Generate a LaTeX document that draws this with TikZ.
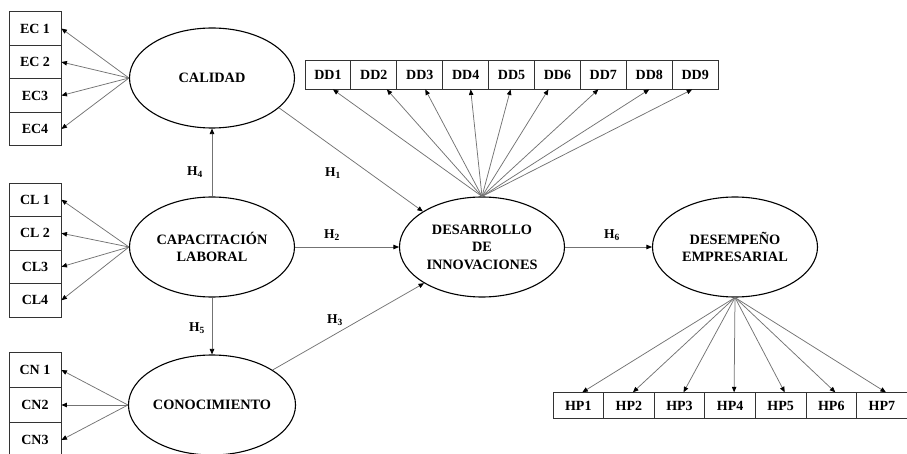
\documentclass[tikz,border=0pt]{standalone}
\usepackage{fontspec}
\setmainfont{Liberation Serif}
\usetikzlibrary{shapes.geometric,arrows.meta}
\tikzset{
  lat/.style={ellipse,draw=black,line width=1.1pt,minimum width=165pt,minimum height=100pt,inner sep=0pt,align=center,font=\bfseries\fontsize{14.3}{17.5}\selectfont},
  box/.style={draw=black!80,line width=0.9pt,rectangle,inner sep=0pt,font=\bfseries\fontsize{14}{16}\selectfont},
  lbox/.style={box,minimum width=52pt,minimum height=33.5pt},
  nbox/.style={box,minimum width=52pt,minimum height=35pt},
  ddbox/.style={box,minimum width=45.9pt,minimum height=29pt},
  hpbox/.style={box,minimum width=50.6pt,minimum height=25.5pt},
  conn/.style={draw=black!55,line width=0.75pt,-{Triangle[length=5.5pt,width=4.5pt,color=black]}},
  hyp/.style={font=\bfseries\fontsize{13.5}{15}\selectfont,inner sep=0pt}
}
\begin{document}
\begin{tikzpicture}[x=1pt,y=-1pt]
\useasboundingbox (0,0) rectangle (907,454);
% latent variables
\node[lat] (cal) at (212,78) {CALIDAD};
\node[lat] (cap) at (212,247) {CAPACITACIÓN\\LABORAL};
\node[lat] (con) at (212,405) {CONOCIMIENTO};
\node[lat] (des) at (482,247) {DESARROLLO\\DE\\INNOVACIONES};
\node[lat] (emp) at (735,247) {DESEMPEÑO\\EMPRESARIAL};
% indicator boxes left
\node[lbox] (ec1) at (35,28.5) {EC 1};
\node[lbox] (ec2) at (35,62) {EC 2};
\node[lbox] (ec3) at (35,95.5) {EC3};
\node[lbox] (ec4) at (35,129) {EC4};
\node[lbox] (cl1) at (35,199.75) {CL 1};
\node[lbox] (cl2) at (35,233.25) {CL 2};
\node[lbox] (cl3) at (35,266.75) {CL3};
\node[lbox] (cl4) at (35,300.25) {CL4};
\node[nbox] (cn1) at (35,370) {CN 1};
\node[nbox] (cn2) at (35,405) {CN2};
\node[nbox] (cn3) at (35,440) {CN3};
% DD boxes
\foreach \i in {1,...,9}
  \node[ddbox] (dd\i) at ({305+45.9*(\i-0.5)},74.5) {DD\i};
% HP boxes
\foreach \i in {1,...,7}
  \node[hpbox] (hp\i) at ({553+50.6*(\i-0.5)},405.5) {HP\i};
% reflective arrows left
\foreach \n in {ec1,ec2,ec3,ec4} \draw[conn] (cal.west) -- (\n.east);
\foreach \n in {cl1,cl2,cl3,cl4} \draw[conn] (cap.west) -- (\n.east);
\foreach \n in {cn1,cn2,cn3} \draw[conn] (con.west) -- (\n.east);
% DD fan
\foreach \i/\s in {1/5,2/13,3/5.5,4/5,5/-1,6/-9,7/-5,8/0,9/-3}
  \draw[conn] (des.north) -- ([xshift=\s pt]dd\i.south);
% HP fan
\foreach \i in {1,...,7}
  \draw[conn] (emp.south) -- ([xshift=4pt]hp\i.north);
% structural paths
\draw[conn] (cap.north) -- (cal.south);
\draw[conn] (cap.south) -- (con.north);
\draw[conn] (cal.-24) -- (des.149);
\draw[conn] (cap.east) -- (des.west);
\draw[conn] (con.30) -- (des.212);
\draw[conn] (des.east) -- (emp.west);
% hypothesis labels
\node[hyp] (h4) at (195,172) {H\textsubscript{4}};
\node[hyp] (h5) at (197,328) {H\textsubscript{5}};
\node[hyp] (h1) at (333,173) {H\textsubscript{1}};
\node[hyp] (h2) at (332,235) {H\textsubscript{2}};
\node[hyp] (h3) at (335,320) {H\textsubscript{3}};
\node[hyp] (h6) at (612,235) {H\textsubscript{6}};
\end{tikzpicture}
\end{document}
